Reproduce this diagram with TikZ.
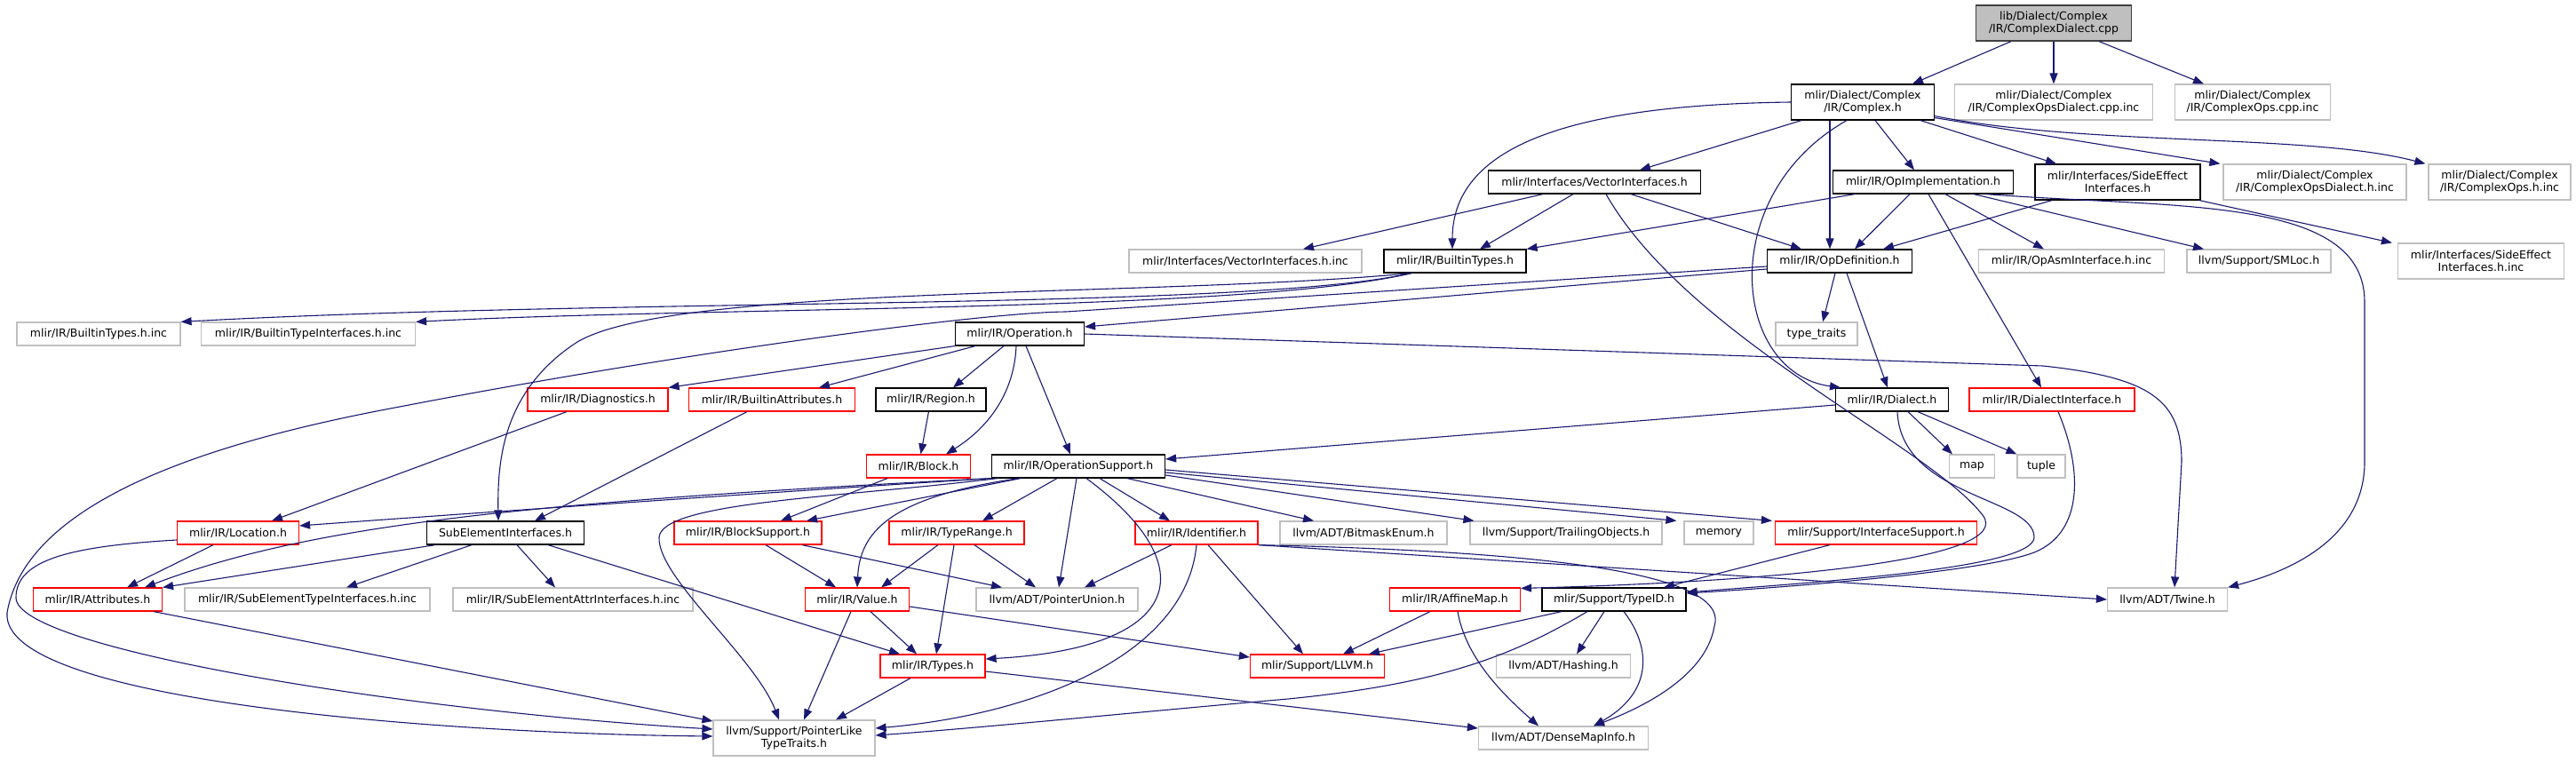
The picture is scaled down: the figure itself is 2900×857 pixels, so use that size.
\documentclass[tikz,border=0pt]{standalone}
\usepackage{fontspec}
\setmainfont{DejaVu Sans}
\usepackage{xcolor}
\usepackage{tikz}
\usetikzlibrary{arrows.meta}
\definecolor{edgeblue}{HTML}{191970}
\definecolor{nodegray}{HTML}{BFBFBF}
\begin{document}
\begin{tikzpicture}[
    x=1pt, y=-1pt,
    fnode/.style={rectangle, fill=white, line width=1.2pt, inner sep=0pt, minimum height=26pt, align=center, font=\fontsize{12.5}{14}\selectfont},
    dnode/.style={fnode, draw=black},
    unode/.style={fnode, draw=nodegray},
    tnode/.style={fnode, draw=red},
    twoline/.style={minimum height=40pt},
    wd/.style={minimum width=#1pt},
    arr/.style={-{Triangle[length=12pt, width=9pt]}, draw=edgeblue, line width=1.1pt}
]
\useasboundingbox (0,0) rectangle (2900,857);

\node[fnode, fill=nodegray, draw=black!75, twoline, wd=175] (root) at (2312,26) {lib/Dialect/Complex\\/IR/ComplexDialect.cpp};
\node[dnode, twoline, wd=161] (cplx) at (2097,115) {mlir/Dialect/Complex\\/IR/Complex.h};
\node[unode, twoline, wd=223] (odcinc) at (2312,115) {mlir/Dialect/Complex\\/IR/ComplexOpsDialect.cpp.inc};
\node[unode, twoline, wd=175] (ocinc) at (2536,115) {mlir/Dialect/Complex\\/IR/ComplexOps.cpp.inc};
\node[dnode, wd=239] (vecif) at (1795,205) {mlir/Interfaces/VectorInterfaces.h};
\node[dnode, wd=203] (opimpl) at (2165,205) {mlir/IR/OpImplementation.h};
\node[dnode, twoline, wd=186] (sideeff) at (2384,205) {mlir/Interfaces/SideEffect\\Interfaces.h};
\node[unode, twoline, wd=206] (odhinc) at (2606,205) {mlir/Dialect/Complex\\/IR/ComplexOpsDialect.h.inc};
\node[unode, twoline, wd=160] (ohinc) at (2814,205) {mlir/Dialect/Complex\\/IR/ComplexOps.h.inc};
\node[unode, wd=262] (vecifinc) at (1402,294) {mlir/Interfaces/VectorInterfaces.h.inc};
\node[dnode, wd=160] (btypes) at (1638,294) {mlir/IR/BuiltinTypes.h};
\node[dnode, wd=163] (opdef) at (2071,294) {mlir/IR/OpDefinition.h};
\node[unode, wd=209] (opasminc) at (2332,294) {mlir/IR/OpAsmInterface.h.inc};
\node[unode, wd=162] (smloc) at (2543,294) {llvm/Support/SMLoc.h};
\node[unode, twoline, wd=187] (sideeffinc) at (2793,294) {mlir/Interfaces/SideEffect\\Interfaces.h.inc};
\node[unode, wd=184] (btinc) at (111,376) {mlir/IR/BuiltinTypes.h.inc};
\node[unode, wd=241] (btifinc) at (347,376) {mlir/IR/BuiltinTypeInterfaces.h.inc};
\node[dnode, wd=145] (oper) at (1148,376) {mlir/IR/Operation.h};
\node[unode, wd=92] (ttraits) at (2045,376) {type\_traits};
\node[tnode, wd=158] (diag) at (673,450) {mlir/IR/Diagnostics.h};
\node[tnode, wd=187] (battr) at (869,450) {mlir/IR/BuiltinAttributes.h};
\node[dnode, wd=124] (region) at (1048,450) {mlir/IR/Region.h};
\node[dnode, wd=127] (dialect) at (2130,450) {mlir/IR/Dialect.h};
\node[tnode, wd=186] (dialif) at (2310,450) {mlir/IR/DialectInterface.h};
\node[tnode, wd=117] (block) at (1034,525) {mlir/IR/Block.h};
\node[dnode, wd=195] (opsupp) at (1214,525) {mlir/IR/OperationSupport.h};
\node[unode, wd=51] (map) at (2220,525) {map};
\node[unode, wd=54] (tuple) at (2298,525) {tuple};
\node[tnode, wd=137] (loc) at (268,600) {mlir/IR/Location.h};
\node[dnode, wd=177] (subel) at (569,600) {SubElementInterfaces.h};
\node[tnode, wd=166] (blksupp) at (842,600) {mlir/IR/BlockSupport.h};
\node[tnode, wd=152] (trange) at (1077,600) {mlir/IR/TypeRange.h};
\node[tnode, wd=138] (ident) at (1347,600) {mlir/IR/Identifier.h};
\node[unode, wd=188] (bitmask) at (1535,600) {llvm/ADT/BitmaskEnum.h};
\node[unode, wd=216] (trail) at (1763,600) {llvm/Support/TrailingObjects.h};
\node[unode, wd=78] (memory) at (1935,600) {memory};
\node[tnode, wd=227] (ifsupp) at (2112,600) {mlir/Support/InterfaceSupport.h};
\node[tnode, wd=145] (attrs) at (110,675) {mlir/IR/Attributes.h};
\node[unode, wd=276] (steinc) at (346,675) {mlir/IR/SubElementTypeInterfaces.h.inc};
\node[unode, wd=270] (saiinc) at (645,675) {mlir/IR/SubElementAttrInterfaces.h.inc};
\node[tnode, wd=117] (value) at (965,675) {mlir/IR/Value.h};
\node[unode, wd=182] (punion) at (1190,675) {llvm/ADT/PointerUnion.h};
\node[tnode, wd=147] (affine) at (1638,675) {mlir/IR/AffineMap.h};
\node[dnode, wd=162] (typeid) at (1817,675) {mlir/Support/TypeID.h};
\node[unode, wd=135] (twine) at (2440,675) {llvm/ADT/Twine.h};
\node[tnode, wd=118] (types) at (1050,750) {mlir/IR/Types.h};
\node[tnode, wd=151] (llvmh) at (1483,750) {mlir/Support/LLVM.h};
\node[unode, wd=151] (hashing) at (1760,750) {llvm/ADT/Hashing.h};
\node[unode, twoline, wd=182] (plt) at (894,831) {llvm/Support/PointerLike\\TypeTraits.h};
\node[unode, wd=191] (dmi) at (1760,831) {llvm/ADT/DenseMapInfo.h};

\draw[arr] ([xshift=-48]root.south) -- ([xshift=56]cplx.north);
\draw[arr] (root) -- (odcinc);
\draw[arr] ([xshift=51]root.south) -- ([xshift=-55]ocinc.north);

\draw[arr] (cplx.west) .. controls (1780,118) and (1635,160) .. ([xshift=-3]btypes.north);
\draw[arr] ([xshift=-69]cplx.south) -- ([xshift=51]vecif.north);
\draw[arr] ([xshift=-18]cplx.south) .. controls (1930,220) and (1950,420) .. ([xshift=-58]dialect.north);
\draw[arr] ([xshift=-37]cplx.south) -- ([xshift=-11]opdef.north);
\draw[arr] ([xshift=14]cplx.south) -- ([xshift=-10]opimpl.north);
\draw[arr] ([xshift=65]cplx.south) -- ([xshift=-69]sideeff.north);
\draw[arr] ([yshift=3]cplx.south east) -- ([xshift=-3]odhinc.north west);
\draw[arr] ([yshift=5]cplx.south east) .. controls (2350,165) and (2600,150) .. ([xshift=-3]ohinc.north west);

\draw[arr] ([xshift=-58]vecif.south) -- ([xshift=65]vecifinc.north);
\draw[arr] ([xshift=-24]vecif.south) -- ([xshift=28]btypes.north);
\draw[arr] ([xshift=41]vecif.south) -- ([xshift=-43]opdef.north);
\draw[arr] ([xshift=13]vecif.south) .. controls (1900,380) and (2170,500) .. (2232,580) .. controls (2270,630) and (2000,655) .. ([yshift=-1]affine.north east);

\draw[arr] ([xshift=-77]opimpl.south) -- (btypes.north east);
\draw[arr] ([xshift=-15]opimpl.south) -- ([xshift=17]opdef.north);
\draw[arr] ([xshift=6]opimpl.south) -- ([xshift=-12]dialif.north);
\draw[arr] ([xshift=25]opimpl.south) -- ([xshift=-31]opasminc.north);
\draw[arr] ([xshift=57]opimpl.south) -- ([xshift=-62]smloc.north);
\draw[arr] ([xshift=71]opimpl.south) .. controls (2450,235) and (2662,220) .. (2662,340) -- (2662,520) .. controls (2662,600) and (2590,640) .. (twine.north east);

\draw[arr] ([xshift=-74]sideeff.south) -- ([xshift=49]opdef.north);
\draw[arr] ([xshift=92]sideeff.south) -- ([xshift=-6]sideeffinc.north west);

\draw[arr] ([xshift=-49]btypes.south) .. controls (1400,350) and (700,335) .. (btinc.north east);
\draw[arr] ([xshift=-49]btypes.south) .. controls (1400,352) and (800,345) .. (btifinc.north east);
\draw[arr] ([xshift=-49]btypes.south) .. controls (1300,335) and (760,320) .. (650,385) .. controls (565,440) and (560,520) .. ([xshift=-8]subel.north);

\draw[arr] ([yshift=-9]opdef.west) -- ([yshift=8]oper.east);
\draw[arr] ([yshift=-6]opdef.west) -- (1200,351) .. controls (1100,352) and (750,400) .. (450,458) .. controls (250,495) and (30,560) .. (8,690) .. controls (0,790) and (500,826) .. ([yshift=2]plt.west);
\draw[arr] ([xshift=-5]opdef.south) -- ([xshift=7]ttraits.north);
\draw[arr] ([xshift=8]opdef.south) -- ([xshift=-5]dialect.north);

\draw[arr] (oper.south west) -- (diag.north east);
\draw[arr] ([xshift=-50]oper.south) -- ([xshift=53]battr.north);
\draw[arr] ([xshift=-18]oper.south) -- ([xshift=25]region.north);
\draw[arr] ([xshift=-4]oper.south) .. controls (1142,440) and (1115,480) .. ([xshift=31]block.north);
\draw[arr] ([xshift=7]oper.south) -- ([xshift=-9]opsupp.north);
\draw[arr] (oper.east) -- (2300,412) .. controls (2420,425) and (2456,450) .. (2456,520) -- ([xshift=8]twine.north);

\draw[arr] ([xshift=-35]diag.south) -- ([xshift=38]loc.north);
\draw[arr] ([xshift=-28]battr.south) -- ([xshift=33]subel.north);
\draw[arr] (region) -- (block);
\draw[arr] ([xshift=-35]block.south) -- ([xshift=37]blksupp.north);

\draw[arr] (opsupp.south west) .. controls (900,552) and (500,580) .. ([yshift=8]loc.east);
\draw[arr] (opsupp.south west) .. controls (600,565) and (350,590) .. ([xshift=53]attrs.north);
\draw[arr] ([xshift=-91]opsupp.south) .. controls (950,560) and (745,565) .. (742,605) .. controls (740,650) and (850,740) .. ([xshift=-17]plt.north);
\draw[arr] ([xshift=-65]opsupp.south) -- ([xshift=66]blksupp.north);
\draw[arr] ([xshift=-67]opsupp.south) .. controls (1000,560) and (968,600) .. (value.north);
\draw[arr] ([xshift=-24]opsupp.south) -- ([xshift=29]trange.north);
\draw[arr] ([xshift=-2]opsupp.south) -- ([xshift=2]punion.north);
\draw[arr] ([xshift=9]opsupp.south) .. controls (1360,640) and (1330,730) .. ([yshift=8]types.east);
\draw[arr] ([xshift=24]opsupp.south) -- ([xshift=-30]ident.north);
\draw[arr] ([xshift=55]opsupp.south) -- ([xshift=-56]bitmask.north);
\draw[arr] ([yshift=-10]opsupp.east) -- ([xshift=5]trail.north west);
\draw[arr] ([yshift=-7]opsupp.east) -- ([xshift=-8]memory.north west);
\draw[arr] ([yshift=-4]opsupp.east) -- ([xshift=-3]ifsupp.north west);

\draw[arr] ([yshift=-6]dialect.west) -- ([yshift=8]opsupp.east);
\draw[arr] ([xshift=18]dialect.south) -- ([xshift=-22]map.north);
\draw[arr] ([xshift=29]dialect.south) -- (tuple.north west);
\draw[arr] ([xshift=6]dialect.south) .. controls (2140,560) and (2290,560) .. (2290,605) .. controls (2290,640) and (2050,655) .. ([yshift=8]typeid.east);
\draw[arr] ([xshift=7]dialif.south) .. controls (2345,530) and (2345,600) .. (2290,622) .. controls (2230,645) and (2000,662) .. ([yshift=7]typeid.east);

\draw[arr] ([xshift=-28]ident.south) -- ([xshift=31]punion.north);
\draw[arr] (ident.south) .. controls (1335,740) and (1160,805) .. ([yshift=11]plt.east);
\draw[arr] ([xshift=13]ident.south) -- ([xshift=-16]llvmh.north);
\draw[arr] (ident.south east) .. controls (1700,620) and (1950,640) .. (1930,705) .. controls (1920,765) and (1840,800) .. ([xshift=34]dmi.north);
\draw[arr] (ident.south east) -- (twine.west);
\draw[arr] ([xshift=-52]ifsupp.south) -- ([xshift=56]typeid.north);

\draw[arr] ([xshift=20]blksupp.south) -- ([xshift=-24]value.north);
\draw[arr] ([xshift=61]blksupp.south) -- ([xshift=-62]punion.north);
\draw[arr] ([xshift=-21]trange.south) -- ([xshift=27]value.north);
\draw[arr] ([xshift=-3]trange.south) -- ([xshift=4]types.north);
\draw[arr] ([xshift=20]trange.south) -- ([xshift=-24]punion.north);

\draw[arr] ([xshift=-28]loc.south) -- ([xshift=33]attrs.north);
\draw[arr] ([yshift=-8]loc.west) .. controls (80,615) and (18,630) .. (18,673) .. controls (18,730) and (450,800) .. ([yshift=10]plt.west);
\draw[arr] ([xshift=63]attrs.south) -- ([yshift=19]plt.west);
\draw[arr] ([xshift=-79]subel.south) -- (attrs.north east);
\draw[arr] ([xshift=-38]subel.south) -- ([xshift=44]steinc.north);
\draw[arr] ([xshift=13]subel.south) -- ([xshift=-20]saiinc.north);
\draw[arr] ([xshift=48]subel.south) -- ([xshift=-37]types.north);

\draw[arr] ([xshift=15]value.south) -- ([xshift=-18]types.north);
\draw[arr] ([xshift=-7]value.south) -- ([xshift=11]plt.north);
\draw[arr] ([yshift=-8]value.east) -- ([yshift=10]llvmh.west);
\draw[arr] ([xshift=-25]types.south) -- ([xshift=47]plt.north);
\draw[arr] ([yshift=-6]types.east) -- ([yshift=11]dmi.west);

\draw[arr] ([xshift=-28]affine.south) -- ([xshift=29]llvmh.north);
\draw[arr] ([xshift=3]affine.south) .. controls (1650,740) and (1690,780) .. ([xshift=-28]dmi.north);
\draw[arr] ([xshift=-59]typeid.south) -- ([xshift=58]llvmh.north);
\draw[arr] ([xshift=-30]typeid.south) .. controls (1700,740) and (1620,770) .. (1450,787) .. controls (1300,800) and (1100,820) .. ([yshift=3]plt.east);
\draw[arr] ([xshift=-11]typeid.south) -- ([xshift=15]hashing.north);
\draw[arr] ([xshift=11]typeid.south) .. controls (1860,730) and (1860,780) .. ([xshift=34]dmi.north);

\end{tikzpicture}
\end{document}
